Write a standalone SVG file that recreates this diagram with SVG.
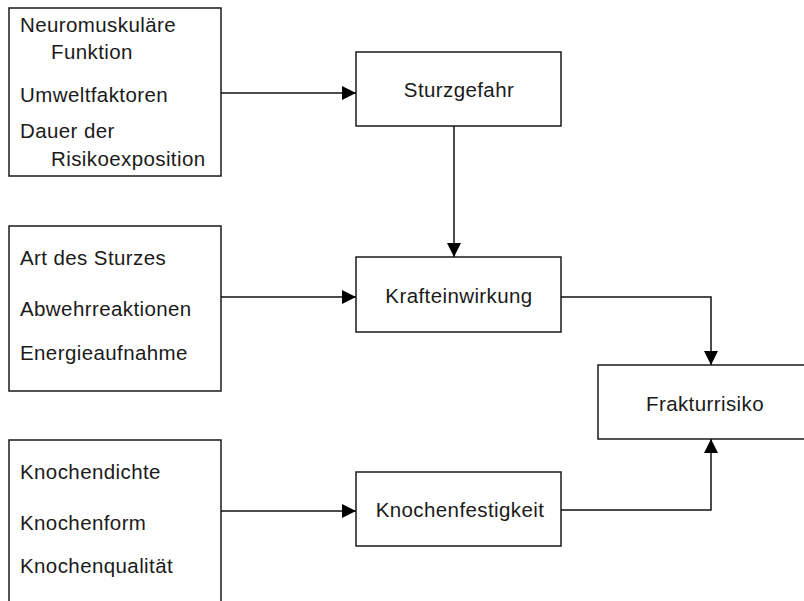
<svg xmlns="http://www.w3.org/2000/svg" width="804" height="601" viewBox="0 0 804 601">
<style>
.box{fill:#fff;stroke:#1a1a1a;stroke-width:1.5}
.t{font-family:"Liberation Sans",Arial,sans-serif;font-size:20.5px;letter-spacing:0.4px;fill:#1a1a1a}
.c{text-anchor:middle}
.ln{fill:none;stroke:#111;stroke-width:1.5}
</style>
<defs>
<marker id="ah" viewBox="0 0 14 14" refX="14" refY="7" markerWidth="14" markerHeight="14" markerUnits="userSpaceOnUse" orient="auto">
<path d="M0,0 L14,7 L0,14 Z" fill="#000"/>
</marker>
</defs>
<rect width="804" height="601" fill="#fff"/>
<g id="n-sturzfaktoren">
<rect class="box" x="9" y="8" width="212" height="168"/>
<text class="t" x="20" y="32">Neuromuskuläre</text>
<text class="t" x="51" y="59">Funktion</text>
<text class="t" x="20" y="102">Umweltfaktoren</text>
<text class="t" x="20" y="138">Dauer der</text>
<text class="t" x="51" y="166">Risikoexposition</text>
</g>
<g id="n-sturzart">
<rect class="box" x="9" y="226" width="212" height="165"/>
<text class="t" x="20" y="265">Art des Sturzes</text>
<text class="t" x="20" y="316">Abwehrreaktionen</text>
<text class="t" x="20" y="360">Energieaufnahme</text>
</g>
<g id="n-knochen">
<rect class="box" x="9" y="440" width="212" height="175"/>
<text class="t" x="20" y="479">Knochendichte</text>
<text class="t" x="20" y="530">Knochenform</text>
<text class="t" x="20" y="573">Knochenqualität</text>
</g>
<g id="n-sturzgefahr">
<rect class="box" x="356" y="52" width="205" height="74"/>
<text class="t c" x="459" y="97">Sturzgefahr</text>
</g>
<g id="n-krafteinwirkung">
<rect class="box" x="356" y="257" width="205" height="75"/>
<text class="t c" x="459" y="303">Krafteinwirkung</text>
</g>
<g id="n-knochenfestigkeit">
<rect class="box" x="356" y="472" width="205" height="74"/>
<text class="t c" x="460" y="517">Knochenfestigkeit</text>
</g>
<g id="n-frakturrisiko">
<rect class="box" x="598" y="365" width="220" height="74"/>
<text class="t c" x="705" y="411">Frakturrisiko</text>
</g>
<g id="connectors">
<path class="ln" d="M221,93 H356" marker-end="url(#ah)"/>
<path class="ln" d="M454,126 V257" marker-end="url(#ah)"/>
<path class="ln" d="M221,297 H356" marker-end="url(#ah)"/>
<path class="ln" d="M221,511 H356" marker-end="url(#ah)"/>
<path class="ln" d="M561,297 H711 V365" marker-end="url(#ah)"/>
<path class="ln" d="M561,510 H711 V439" marker-end="url(#ah)"/>
</g>
</svg>
